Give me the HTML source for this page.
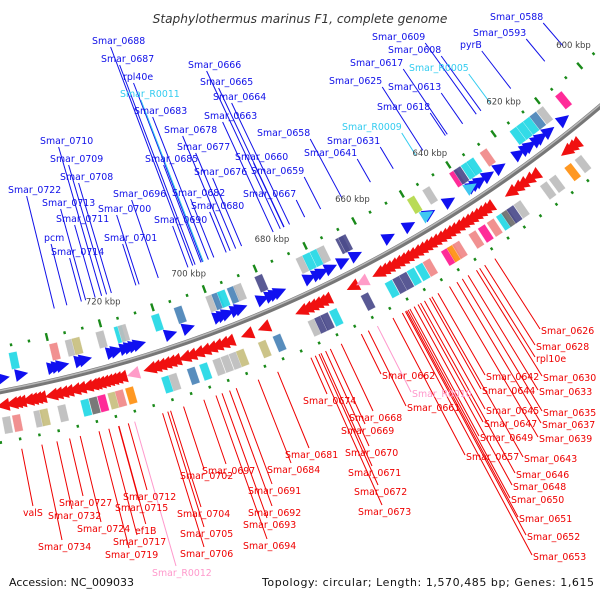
<!DOCTYPE html>
<html><head><meta charset="utf-8">
<style>
html,body{margin:0;padding:0;background:#fff;}
svg{display:block;font-family:"DejaVu Sans","Liberation Sans",sans-serif;}
</style></head>
<body>
<svg id="chart" width="600" height="600" viewBox="0 0 600 600" xmlns="http://www.w3.org/2000/svg">
<rect width="600" height="600" fill="#fff"/>
<g id="glines"></g>
<g id="gmarks"></g>
<g id="glabels"></g>
<text x="300" y="23" text-anchor="middle" font-size="12.2" font-style="italic" fill="#333">Staphylothermus marinus F1, complete genome</text>
<text x="9" y="586" font-size="11" fill="#111">Accession: NC_009033</text>
<text x="594" y="586" text-anchor="end" font-size="11" textLength="332" fill="#111">Topology: circular; Length: 1,570,485 bp; Genes: 1,615</text>
</svg>
<script>
// ---- data ----
const tickKbp = [600, 620, 640, 660, 680, 700, 720];
const fwdGenes = [745,741,734,733,732,728,727,721,720,718,717,716,715,708,704,697,696,695,693,692,687,685,684,683,676,674,673,671,668,665,657,652,647,642,636,635,634,632,629,624,622,621,619,618,616,612];
const fwdRna = [647.5, 636.5];
const revGenes = [746.2,744.4,743.5,742.6,741,740.1,739.2,738.3,735.9,734.8,733.6,732.5,731,729.8,728.3,727.2,726.5,725.6,724.7,723.8,722.9,722,720.9,714.6,713.5,712.4,711.3,710.2,709.1,707,705.7,704.1,702.6,701.2,699.9,698.5,697.2,693,689.2,680.7,679.5,678.4,677.3,676.2,675.1,668.8,662.8,661.7,660.6,659.4,658.3,657.2,656.1,655,653.8,652.7,651.6,650.5,649.4,648.2,647.1,646,644.9,643.7,642.6,641.5,640.4,639.3,638.2,637.1,636,630.4,628.8,627.5,625.9,624.3,615.9,614.7,613.6];
const revRna = [718.2, 666.6];
const fwdBoxKbp = [742,733,729.5,728,722.6,718.5,717.6,710,704.8,697.5,696.1,694.8,692.5,691,686,676.2,674.6,672.8,671.2,666.6,665.9,648.8,644.9,638,636.9,635,633.5,630,622,620.2,618.4,616.6,614.7,609.5];
const fwdBoxCol = ["c","s","g","k","g","c","g","c","b","g","b","c","b","g","n","g","c","c","g","n","n","y","g","m","n","c","c","s","c","c","c","b","g","m"];
const revBoxKbp = [746,743.9,739.4,738.1,734.3,729.4,727.6,725.8,723.6,722,719.8,712,710.4,706.4,703.7,700.8,699,697.2,695.6,690.7,687.4,679.5,678,676.6,674.6,667.3,661.7,659.9,658.3,656.5,654.5,652.7,648.3,646.9,645.6,641.6,639.3,637.1,634.8,633.5,632.2,630.4,623.7,621.4,617.4,614.7];
const revBoxCol = ["g","s","g","k","g","c","d","m","k","s","o","c","g","b","c","g","g","g","k","k","b","g","n","n","c","n","c","n","n","c","c","s","m","o","s","s","m","s","c","d","n","g","g","g","o","g"];
const blueNames = ["Smar_0588","Smar_0593","pyrB","Smar_0609","Smar_0608","Smar_0617","Smar_R0005","Smar_0625","Smar_0613","Smar_0618","Smar_R0009","Smar_0631","Smar_0641","Smar_0658","Smar_0660","Smar_0659","Smar_0667","Smar_0666","Smar_0665","Smar_0664","Smar_0663","Smar_0678","Smar_0677","Smar_0685","Smar_0676","Smar_0682","Smar_0680","Smar_0690","Smar_0696","Smar_0700","Smar_0701","Smar_0688","Smar_0687","rpl40e","Smar_R0011","Smar_0683","Smar_0710","Smar_0709","Smar_0708","Smar_0722","Smar_0713","Smar_0711","pcm","Smar_0714"];
const blueX = [490,473,460,372,388,350,409,329,388,377,342,327,304,257,235,251,243,188,200,213,204,164,177,145,194,172,191,154,113,98,104,92,101,123,120,134,40,50,60,8,42,56,44,51];
const blueY = [20,36,48,40,53,66,71,84,90,110,130,144,156,136,160,174,197,68,85,100,119,133,150,162,175,196,209,223,197,212,241,44,62,80,97,114,144,162,180,193,206,222,241,255];
const redNames = ["Smar_0626","Smar_0628","rpl10e","Smar_0630","Smar_0642","Smar_0633","Smar_0644","Smar_0645","Smar_0635","Smar_0647","Smar_0637","Smar_0649","Smar_0639","Smar_0657","Smar_0643","Smar_0646","Smar_0648","Smar_0650","Smar_0651","Smar_0652","Smar_0653","Smar_0662","Smar_R0010","Smar_0661","Smar_0674","Smar_0668","Smar_0669","Smar_0670","Smar_0671","Smar_0672","Smar_0673","Smar_0681","Smar_0684","Smar_0697","Smar_0702","Smar_0691","Smar_0712","Smar_0727","Smar_0715","Smar_0692","valS","Smar_0732","Smar_0704","Smar_0693","Smar_0724","ef1B","Smar_0705","Smar_0717","Smar_0734","Smar_0694","Smar_0706","Smar_0719","Smar_R0012"];
const redX = [541,536,536,543,486,539,482,486,543,484,542,480,539,466,524,516,513,511,519,527,533,382,412,407,303,349,341,345,348,354,358,285,267,202,180,248,123,59,115,248,23,48,177,243,77,135,180,113,38,243,180,105,152];
const redY = [334,350,362,381,380,395,394,414,416,427,428,441,442,460,462,478,490,503,522,540,560,379,397,411,404,421,434,456,476,495,515,458,473,474,479,494,500,506,511,516,516,519,517,528,532,534,537,545,550,549,557,558,576];

// ---- geometry ----
const CX = -239, CY = -884, R = 1298;
function ang(k){ return (53 + (k - 620) * 0.209) * Math.PI / 180; }
function pt(k, r){ const a = ang(k); return [CX + r*Math.cos(a), CY + r*Math.sin(a)]; }
const NS = "http://www.w3.org/2000/svg";
const gm = document.getElementById('gmarks');
const gl = document.getElementById('glines');
const gt = document.getElementById('glabels');
const palette = {c:"#22d8e6",s:"#f08888",g:"#bdbdbd",k:"#c8c080",b:"#4a84b8",n:"#4c4c8c",y:"#b4d848",m:"#ff1a90",o:"#ff9010",d:"#6e6e6e"};
function el(tag, attrs, parent){ const e = document.createElementNS(NS, tag); for (const k in attrs) e.setAttribute(k, attrs[k]); parent.appendChild(e); return e; }

// backbone
(function(){
  const a0 = ang(560), a1 = ang(760);
  const d = (r)=>`M${CX+r*Math.cos(a0)},${CY+r*Math.sin(a0)} A${r},${r} 0 0 1 ${CX+r*Math.cos(a1)},${CY+r*Math.sin(a1)}`;
  const b = el('path', {d:d(R), fill:'none', stroke:'#777', 'stroke-width':5}, gm);
  
  
  const h = el('path', {d:d(R-1.2), fill:'none', stroke:'#b8b8b8', 'stroke-width':1.5}, gm);
  
  
})();

// tick labels
tickKbp.forEach(k => {
  const p = pt(k, R-64);
  const t = el('text', {x:p[0], y:p[1]+3, 'text-anchor':'middle', 'font-size':8.5, fill:'#444'}, gm);
  t.textContent = k + ' kbp';
  
  
});

// green dots
for (let k = 598; k <= 750; k += 4) {
  [[R-44, 1], [R+50, -1]].forEach(([r, s], i) => {
    const kk = k + (i ? 2 : 0);
    const long = (Math.round(kk) % 12 === 2);
    const a = ang(kk), len = long ? 4 : 1.4;
    const p = pt(kk, r);
    const d = el('line', {x1:p[0]-Math.cos(a)*len, y1:p[1]-Math.sin(a)*len, x2:p[0]+Math.cos(a)*len, y2:p[1]+Math.sin(a)*len, stroke:'#1a8a1a', 'stroke-width':2.4}, gm);
    
    
  });
}

// boxes
function box(k, r, col){
  const a = ang(k), tx = -Math.sin(a), ty = Math.cos(a), nx = Math.cos(a), ny = Math.sin(a);
  const p = pt(k, r), hw = 4.2, hh = 8.5;
  const pts = [[-hw,-hh],[hw,-hh],[hw,hh],[-hw,hh]].map(([u,v]) => (p[0]+tx*u+nx*v)+','+(p[1]+ty*u+ny*v)).join(' ');
  return el('polygon', {points:pts, fill:palette[col], stroke:'#fff', 'stroke-width':0.3, opacity:0.92}, gm);
}
fwdBoxKbp.forEach((k, i) => {
  const b = box(k, R-28, fwdBoxCol[i]);
  
  
});
revBoxKbp.forEach((k, i) => {
  const b = box(k, R+34, revBoxCol[i]);
  
  
});

// arrows
function arrow(k, r, dir, col){
  const a = ang(k), tx = -Math.sin(a)*dir, ty = Math.cos(a)*dir, nx = Math.cos(a), ny = Math.sin(a);
  const p = pt(k, r), L = 6.5, W = 6.5;
  const pts = [[L,0],[-L,W],[-L,-W]].map(([u,v]) => (p[0]+tx*u+nx*v)+','+(p[1]+ty*u+ny*v)).join(' ');
  return el('polygon', {points:pts, fill:col}, gm);
}
fwdGenes.forEach(k => {
  const a = arrow(k, R-13, -1, '#1010f0');
  
  
});
fwdRna.forEach(k => {
  const a = arrow(k, R-13, -1, '#40c8f0');
  
  
});
revGenes.forEach(k => {
  const a = arrow(k, R+14, 1, '#f01010');
  
  
});
revRna.forEach(k => {
  const a = arrow(k, R+14, 1, '#ff9cc8');
  
  
});

// labels + lines
function colorFor(name, base){ return name.indexOf('_R') > 0 ? (base === 'blue' ? '#33ccf0' : '#ff99cc') : (base === 'blue' ? '#1010e8' : '#ee0000'); }
function radialTo(x, y, r){ const dx = x - CX, dy = y - CY, d = Math.hypot(dx, dy); return [CX + dx/d*r, CY + dy/d*r]; }
blueNames.forEach((n, i) => {
  const c = colorFor(n, 'blue');
  const t = el('text', {x:blueX[i], y:blueY[i], 'font-size':9.4, fill:c}, gt);
  t.textContent = n;
  
  
  const w = t.getComputedTextLength ? t.getComputedTextLength() : n.length*5.8;
  const ax = blueX[i] + (blueX[i] >= 240 ? w : w*0.35), ay = blueY[i] + 3;
  const e = radialTo(ax, ay, R-70);
  const l = el('line', {x1:ax, y1:ay, x2:e[0], y2:e[1], stroke:c, 'stroke-width':1}, gl);
  
  
});
redNames.forEach((n, i) => {
  const c = colorFor(n, 'red');
  const t = el('text', {x:redX[i], y:redY[i], 'font-size':9.4, fill:c}, gt);
  t.textContent = n;
  
  
  const w = t.getComputedTextLength ? t.getComputedTextLength() : n.length*5.8;
  let ax, ay;
  if (redX[i] >= 380) { ax = redX[i] - 1; ay = redY[i] - 5; }
  else { ax = redX[i] + Math.min(24, w/2); ay = redY[i] - 10; }
  const e = radialTo(ax, ay, R+60);
  const l = el('line', {x1:ax, y1:ay, x2:e[0], y2:e[1], stroke:c, 'stroke-width':1}, gl);
  
  
});
</script>
</body></html>
